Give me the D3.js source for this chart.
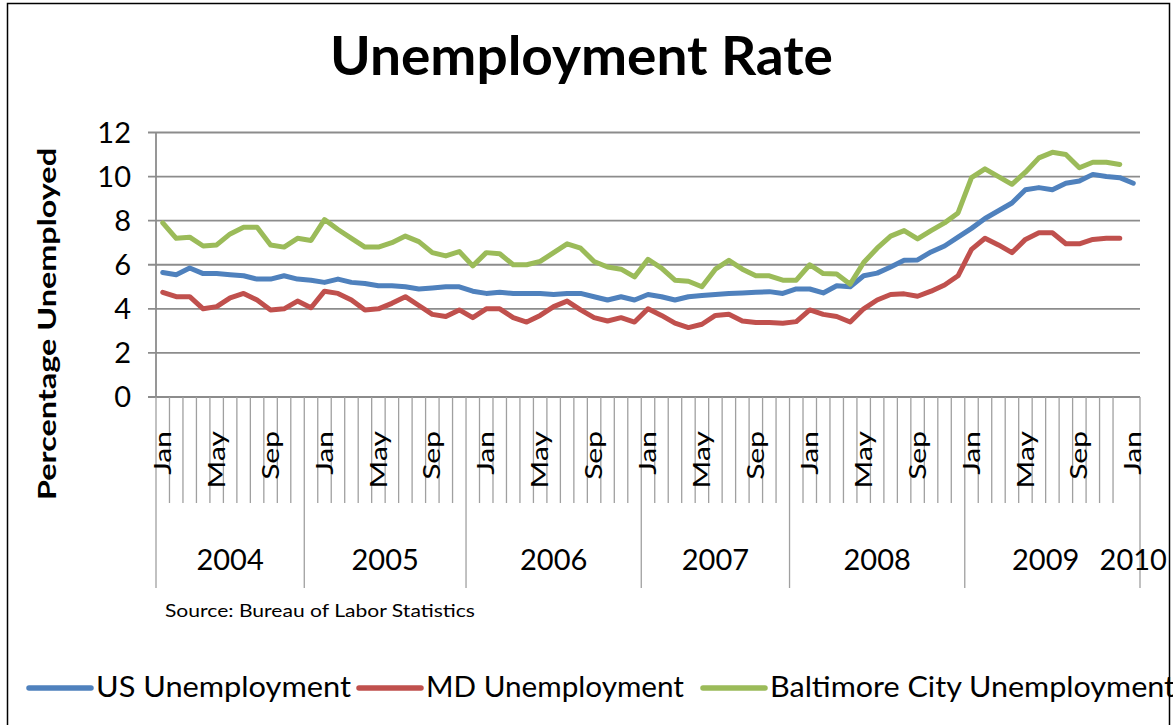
<!DOCTYPE html>
<html>
<head>
<meta charset="utf-8">
<script src="https://cdn.jsdelivr.net/npm/d3@7"></script>
<style>
  html, body { margin: 0; padding: 0; background: #fff; }
  svg { display: block; }
  text { font-family: Lato, "Open Sans", sans-serif; fill: #000; }
</style>
</head>
<body>
<svg id="chart" width="1173" height="725"></svg>
<script>
// ---- Data -------------------------------------------------------------
const monthNames = ["Jan", "Feb", "Mar", "Apr", "May", "Jun",
                    "Jul", "Aug", "Sep", "Oct", "Nov", "Dec"];
const yearLabels = ["2004", "2005", "2006", "2007", "2008", "2009", "2010"];
// first month index of each year group on the category axis
const yearGroupStart = [0, 11, 23, 36, 47, 60, 72];

// monthly categories, Jan 2004 through Jan 2010
const categories = [];
for (let y = 2004; y <= 2010; y++) {
  for (let m = 0; m < 12; m++) {
    if (y === 2010 && m > 0) break;
    categories.push(monthNames[m] + " " + y);
  }
}

const yTicks = [0, 2, 4, 6, 8, 10, 12];

const usRate = [
  5.65, 5.55, 5.85, 5.6, 5.6, 5.55, 5.5, 5.35, 5.35, 5.5, 5.35, 5.3,
  5.2, 5.35, 5.2, 5.15, 5.05, 5.05, 5.0, 4.9, 4.95, 5.0, 5.0, 4.8,
  4.7, 4.75, 4.7, 4.7, 4.7, 4.65, 4.7, 4.7, 4.55, 4.4, 4.55, 4.4,
  4.65, 4.55, 4.4, 4.55, 4.6, 4.65, 4.7, 4.72, 4.75, 4.78, 4.7, 4.9,
  4.9, 4.72, 5.05, 5.0, 5.5, 5.62, 5.9, 6.2, 6.22, 6.58, 6.85, 7.25,
  7.65, 8.1, 8.45, 8.8, 9.4, 9.5, 9.4, 9.7, 9.8, 10.1, 10.0, 9.95,
  9.7
];

const mdRate = [
  4.75, 4.55, 4.55, 4.0, 4.1, 4.5, 4.7, 4.4, 3.95, 4.0, 4.35, 4.05,
  4.8, 4.7, 4.4, 3.95, 4.0, 4.25, 4.55, 4.15, 3.75, 3.65, 3.95, 3.6,
  4.0, 4.0, 3.6, 3.4, 3.7, 4.1, 4.35, 3.95, 3.6, 3.45, 3.6, 3.4,
  4.0, 3.7, 3.35, 3.15, 3.3, 3.7, 3.75, 3.45, 3.38, 3.38, 3.35, 3.42,
  3.95, 3.75, 3.65, 3.4, 4.0, 4.4, 4.65, 4.68, 4.57, 4.8, 5.08, 5.5,
  6.7, 7.2, 6.9, 6.55, 7.15, 7.45, 7.45, 6.95, 6.95, 7.15, 7.2, 7.2
];

const baltimoreRate = [
  7.9, 7.2, 7.25, 6.85, 6.9, 7.4, 7.7, 7.7, 6.9, 6.8, 7.2, 7.1,
  8.05, 7.6, 7.2, 6.8, 6.8, 7.0, 7.3, 7.05, 6.55, 6.4, 6.6, 5.95,
  6.55, 6.5, 6.0, 6.0, 6.15, 6.55, 6.95, 6.75, 6.15, 5.9, 5.8, 5.45,
  6.25, 5.85, 5.3, 5.25, 5.0, 5.8, 6.2, 5.8, 5.5, 5.5, 5.3, 5.3,
  6.0, 5.6, 5.58, 5.12, 6.1, 6.75, 7.3, 7.55, 7.17, 7.55, 7.9, 8.35,
  9.95, 10.35, 10.0, 9.65, 10.2, 10.85, 11.1, 11.0, 10.4, 10.65, 10.65, 10.55
];

const seriesNames = ["US Unemployment", "MD Unemployment", "Baltimore City Unemployment"];
const seriesColors = ["#4F81BD", "#C0504D", "#9BBB59"];

// ---- Layout -----------------------------------------------------------
const svg = d3.select("#chart");
const plot = { left: 156, right: 1140, top: 132.5, bottom: 397 };
const gridColor = "#8c8c8c";
const tickColor = "#a0a0a0";

// chart frame
svg.append("rect")
  .attr("x", 7.5).attr("y", 3.5)
  .attr("width", 1162).attr("height", 760)
  .attr("fill", "none").attr("stroke", "#000").attr("stroke-width", 1.5);

const x = d3.scaleBand().domain(d3.range(categories.length))
  .range([plot.left, plot.right]).paddingInner(0).paddingOuter(0);
const xc = i => x(i) + x.bandwidth() / 2;
const y = d3.scaleLinear().domain([0, 12]).range([plot.bottom, plot.top]);

// horizontal gridlines with short tick stubs left of the axis
svg.append("g").selectAll("line").data(yTicks).join("line")
  .attr("x1", plot.left - 8).attr("x2", plot.right)
  .attr("y1", d => y(d)).attr("y2", d => y(d))
  .attr("stroke", gridColor).attr("stroke-width", 1.8);

// value axis line
svg.append("line")
  .attr("x1", plot.left).attr("x2", plot.left)
  .attr("y1", y(12)).attr("y2", plot.bottom)
  .attr("stroke", gridColor).attr("stroke-width", 1.8);

// value tick labels
svg.append("g").selectAll("text").data(yTicks).join("text")
  .attr("x", 131).attr("y", d => y(d))
  .attr("dy", "0.36em")
  .attr("text-anchor", "end")
  .attr("font-size", 29)
  .text(d => d);

// value axis title
svg.append("text")
  .attr("transform", "translate(56,324) rotate(-90) scale(1,0.8)")
  .attr("text-anchor", "middle")
  .attr("font-size", 32).attr("font-weight", 700)
  .attr("textLength", 352).attr("lengthAdjust", "spacingAndGlyphs")
  .text("Percentage Unemployed");

// ---- Category axis (months nested in years) ---------------------------
const monthTickBottom = 503;
const yearLineBottom = 588;
const yearEdges = yearGroupStart.slice(0, -1).concat([categories.length]);

// short ticks between months
const monthEdges = d3.range(1, categories.length)
  .filter(k => !yearGroupStart.includes(k));
svg.append("g").selectAll("line").data(monthEdges).join("line")
  .attr("x1", k => x(k)).attr("x2", k => x(k))
  .attr("y1", plot.bottom).attr("y2", monthTickBottom)
  .attr("stroke", tickColor).attr("stroke-width", 1.3);

// long separators between year groups
svg.append("g").selectAll("line").data(yearEdges).join("line")
  .attr("x1", k => k < categories.length ? x(k) : plot.right)
  .attr("x2", k => k < categories.length ? x(k) : plot.right)
  .attr("y1", plot.bottom).attr("y2", yearLineBottom)
  .attr("stroke", tickColor).attr("stroke-width", 1.3);

// rotated month labels every fourth month
const monthLabelIdx = d3.range(0, categories.length, 4);
svg.append("g").selectAll("text").data(monthLabelIdx).join("text")
  .attr("transform", i => `translate(${xc(i)},431) rotate(-90) scale(1,0.75)`)
  .attr("text-anchor", "end")
  .attr("dy", "0.36em")
  .attr("font-size", 30)
  .text(i => categories[i].split(" ")[0]);

// year labels centred on their groups
const yearSpans = yearLabels.map((lab, j) => {
  const s = yearGroupStart[j];
  const e = j + 1 < yearGroupStart.length ? yearGroupStart[j + 1] : categories.length;
  return { lab, mid: (x(s) + (e < categories.length ? x(e) : plot.right)) / 2 };
});
svg.append("g").selectAll("text").data(yearSpans).join("text")
  .attr("x", d => d.mid).attr("y", 570)
  .attr("text-anchor", "middle")
  .attr("font-size", 29)
  .text(d => d.lab);

// ---- Series lines -----------------------------------------------------
const line = d3.line().x((d, i) => xc(i)).y(d => y(d));
[usRate, mdRate, baltimoreRate].forEach((vals, s) => {
  svg.append("path")
    .datum(vals)
    .attr("d", line)
    .attr("fill", "none")
    .attr("stroke", seriesColors[s])
    .attr("stroke-width", 5)
    .attr("stroke-linejoin", "round")
    .attr("stroke-linecap", "round");
});

// ---- Title and source -------------------------------------------------
svg.append("text")
  .attr("x", 581.5).attr("y", 75)
  .attr("text-anchor", "middle")
  .attr("font-size", 53).attr("font-weight", 700)
  .attr("textLength", 503).attr("lengthAdjust", "spacingAndGlyphs")
  .text("Unemployment Rate");

svg.append("text")
  .attr("x", 165).attr("y", 617)
  .attr("font-size", 16.5)
  .attr("textLength", 310).attr("lengthAdjust", "spacingAndGlyphs")
  .text("Source: Bureau of Labor Statistics");

// ---- Legend (runs past the right edge of the frame) -------------------
const legendItemX = [27, 357, 701];
const legendTextWidths = [255, 258, 405];
const legendY = 688;
seriesNames.forEach((name, s) => {
  const lx = legendItemX[s];
  svg.append("line")
    .attr("x1", lx + 2).attr("x2", lx + 64)
    .attr("y1", legendY).attr("y2", legendY)
    .attr("stroke", seriesColors[s]).attr("stroke-width", 5.5)
    .attr("stroke-linecap", "round");
  svg.append("text")
    .attr("x", lx + 69).attr("y", 697)
    .attr("font-size", 29)
    .attr("textLength", legendTextWidths[s]).attr("lengthAdjust", "spacingAndGlyphs")
    .text(name);
});
</script>
</body>
</html>
